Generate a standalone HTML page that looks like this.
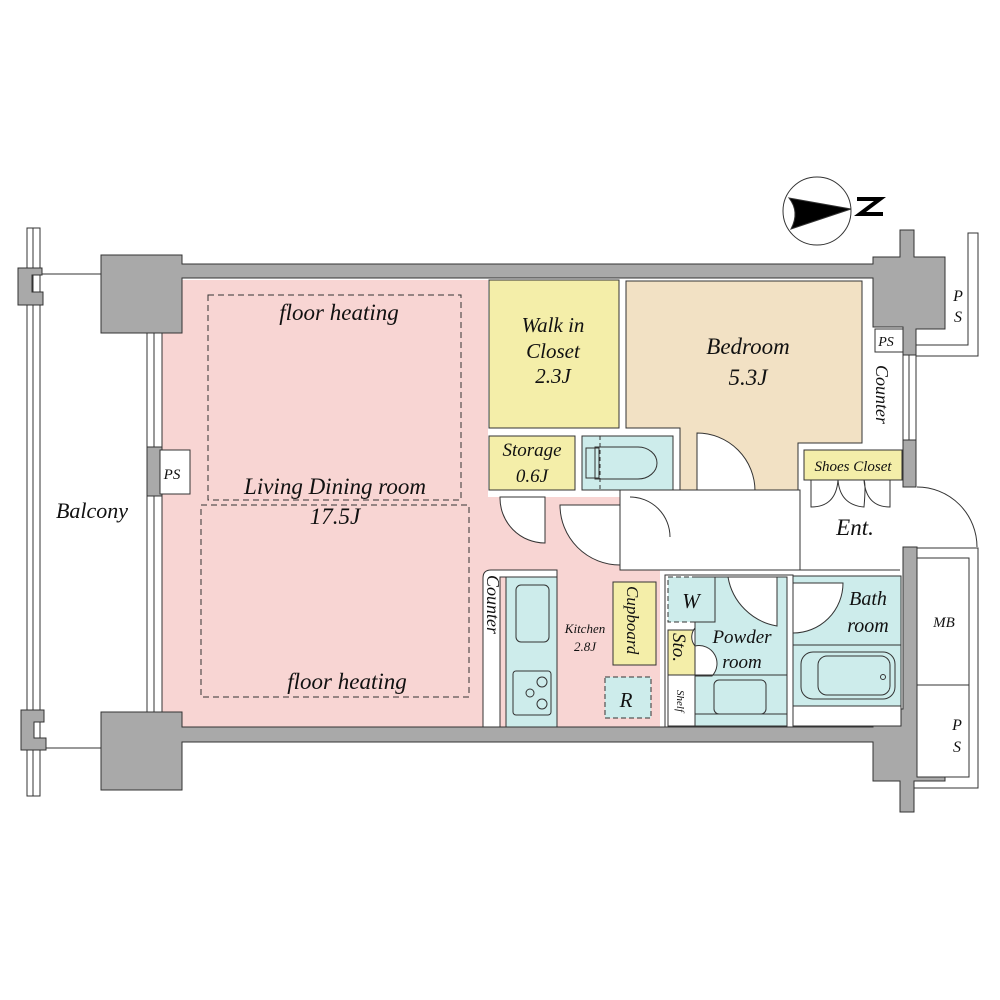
<!DOCTYPE html>
<html><head><meta charset="utf-8"><style>
html,body{margin:0;padding:0;background:#fff;}
svg{display:block;}
text{font-family:"Liberation Serif",serif;font-style:italic;fill:#111;}
</style></head><body>
<svg width="1000" height="1000" viewBox="0 0 1000 1000" xmlns="http://www.w3.org/2000/svg">
<g stroke="#333" stroke-width="1">
<rect x="27" y="228" width="13" height="568" fill="#fff"/>
<line x1="33" y1="228" x2="33" y2="796"/>
<path d="M18 268 H42 V275 H32 V292 H43 V305 H18 Z" fill="#a9a9a9"/>
<path d="M21 710 H44 V722 H34 V738 H46 V750 H21 Z" fill="#a9a9a9"/>
<line x1="42" y1="274" x2="102" y2="274"/>
<line x1="46" y1="748" x2="102" y2="748"/>

<path d="M162 280 H488 V497 H620 V570 H660 V727 H162 Z" fill="#f8d5d3" stroke="none"/>
<rect x="147" y="333" width="15" height="380" fill="#fff"/>
<line x1="154" y1="333" x2="154" y2="713"/>
<rect x="147" y="447" width="15" height="49" fill="#a9a9a9"/>
<rect x="160" y="450" width="30" height="44" fill="#fff"/>
<rect x="208" y="295" width="253" height="205" fill="none" stroke-dasharray="6,4"/>
<rect x="201" y="505" width="268" height="192" fill="none" stroke-dasharray="6,4"/>

<path d="M101 255 H182 V264 H873 V257 H900 V230 H914 V257 H945 V329 H916 V355 H903 V327 H873 V278 H182 V333 H101 Z" fill="#a9a9a9"/>
<path d="M101 712 H182 V727 H873 V709 H903 V547 H917 V709 H945 V781 H914 V812 H900 V781 H873 V742 H182 V790 H101 Z" fill="#a9a9a9"/>
<rect x="903" y="355" width="13" height="132" fill="#fff"/>
<line x1="909" y1="355" x2="909" y2="487"/>
<rect x="903" y="440" width="13" height="47" fill="#a9a9a9"/>

<path d="M916 345 H968 V233 H978 V356 H916 Z" fill="#fff"/>
<rect x="875" y="329" width="28" height="23" fill="#fff"/>
<rect x="917" y="558" width="52" height="127" fill="#fff"/>
<rect x="917" y="685" width="52" height="92" fill="#fff"/>
<path d="M917 548 H978 V788 H914" fill="none"/>
<path d="M917 487 A60 60 0 0 1 977 547" fill="none"/>

<rect x="489" y="280" width="130" height="148" fill="#f4eea9"/>
<path d="M626 281 H862 V443 H798 V490 H680 V428 H626 Z" fill="#f2e1c4"/>
<path d="M697 433 A58 58 0 0 1 755 491 H697 Z" fill="#fff"/>
<rect x="489" y="436" width="86" height="54" fill="#f4eea9"/>
<rect x="582" y="436" width="91" height="54" fill="#cdeceb"/>
<path d="M595 447 H638 A19 16 0 0 1 638 479 H595 Z" fill="none"/>
<rect x="586" y="448" width="13" height="30" fill="none"/>
<line x1="600" y1="436" x2="600" y2="490" stroke-dasharray="4,3"/>
<path d="M500 497 A45 45 0 0 0 545 543 V497 Z" fill="#fff"/>
<path d="M560 505 A60 60 0 0 0 620 565 V505 Z" fill="#fff"/>
<rect x="620" y="490" width="180" height="80" fill="#fff"/>
<path d="M630 497 A40 40 0 0 1 670 537" fill="none"/>
<line x1="800" y1="490" x2="800" y2="570"/>
<line x1="620" y1="570" x2="900" y2="570"/>
<rect x="804" y="450" width="98" height="30" fill="#f4eea9"/>
<path d="M811 480 V507 Q836 507 838 480 Q840 505 864 507 Q866 484 864 480 M890 480 V507 Q866 507 864 480" fill="none"/>
<path d="M483 727 V578 Q483 570 491 570 H557 V577 H500 V727 Z" fill="#fff"/>
<rect x="506" y="577" width="51" height="150" fill="#cdeceb"/>
<rect x="516" y="585" width="33" height="57" rx="5" fill="none"/>
<rect x="513" y="671" width="38" height="44" rx="3" fill="none"/>
<circle cx="542" cy="682" r="5" fill="none"/><circle cx="530" cy="693" r="4" fill="none"/><circle cx="542" cy="704" r="5" fill="none"/>
<rect x="613" y="582" width="43" height="83" fill="#f4eea9"/>
<rect x="605" y="677" width="46" height="41" fill="#cdeceb" stroke-dasharray="5,3"/>
<rect x="665" y="575" width="128" height="152" fill="#fff"/>
<rect x="668" y="577" width="47" height="45" fill="#cdeceb" stroke-dasharray="5,3"/>
<rect x="668" y="630" width="27" height="45" fill="#f4eea9"/>
<rect x="668" y="675" width="27" height="51" fill="#fff"/>
<path d="M695 577 H787 V726 H695 V622 H715 V577 Z" fill="#cdeceb"/>
<path d="M728 577 A60 60 0 0 0 777 626 V577 Z" fill="#fff"/>
<path d="M695 628 A14 14 0 0 0 695 646 A18 18 0 0 1 712 676 H695 Z" fill="#fff"/>
<line x1="695" y1="675" x2="787" y2="675"/>
<line x1="695" y1="714" x2="787" y2="714"/>
<rect x="714" y="680" width="52" height="34" rx="5" fill="none"/>
<rect x="793" y="576" width="108" height="150" fill="#fff"/>
<rect x="793" y="576" width="108" height="130" fill="#cdeceb"/>
<line x1="793" y1="645" x2="901" y2="645"/>
<path d="M793 583 H843 A50 50 0 0 1 793 633 Z" fill="#fff"/>
<rect x="801" y="652" width="94" height="47" rx="12" fill="none"/>
<rect x="818" y="656" width="72" height="39" rx="9" fill="none"/>
<circle cx="883" cy="677" r="2.5" fill="none"/>

<circle cx="817" cy="211" r="34" fill="#fff"/>
<path d="M789 198 L851 209 L791 229 Q800 212 789 198 Z" fill="#000"/>
</g>
<path d="M857 199 H880 L860 214 H883" fill="none" stroke="#000" stroke-width="4"/>

<text x="339" y="320" font-size="23" text-anchor="middle">floor heating</text>
<text x="335" y="494" font-size="23" text-anchor="middle">Living Dining room</text>
<text x="335" y="524" font-size="23" text-anchor="middle">17.5J</text>
<text x="347" y="689" font-size="23" text-anchor="middle">floor heating</text>
<text x="92" y="518" font-size="22" text-anchor="middle">Balcony</text>
<text x="172" y="479" font-size="15" text-anchor="middle">PS</text>
<text x="553" y="332" font-size="21" text-anchor="middle">Walk in</text>
<text x="553" y="358" font-size="21" text-anchor="middle">Closet</text>
<text x="553" y="383" font-size="21" text-anchor="middle">2.3J</text>
<text x="748" y="354" font-size="23" text-anchor="middle">Bedroom</text>
<text x="748" y="385" font-size="23" text-anchor="middle">5.3J</text>
<text x="532" y="456" font-size="19" text-anchor="middle">Storage</text>
<text x="532" y="482" font-size="19" text-anchor="middle">0.6J</text>
<text x="886" y="346" font-size="14" text-anchor="middle">PS</text>
<text x="958" y="301" font-size="16" text-anchor="middle">P</text>
<text x="958" y="322" font-size="16" text-anchor="middle">S</text>
<text transform="translate(876,365) rotate(90)" font-size="18">Counter</text>
<text x="853" y="471" font-size="15" text-anchor="middle">Shoes Closet</text>
<text x="855" y="535" font-size="23" text-anchor="middle">Ent.</text>
<text transform="translate(487,575) rotate(90)" font-size="18">Counter</text>
<text x="585" y="633" font-size="13" text-anchor="middle">Kitchen</text>
<text x="585" y="651" font-size="13" text-anchor="middle">2.8J</text>
<text transform="translate(627,586) rotate(90)" font-size="17">Cupboard</text>
<text x="626" y="707" font-size="21" text-anchor="middle">R</text>
<text x="691" y="608" font-size="21" text-anchor="middle">W</text>
<text transform="translate(673,633) rotate(90)" font-size="19">Sto.</text>
<text transform="translate(677,690) rotate(90)" font-size="11">Shelf</text>
<text x="742" y="643" font-size="19" text-anchor="middle">Powder</text>
<text x="742" y="668" font-size="19" text-anchor="middle">room</text>
<text x="868" y="605" font-size="20" text-anchor="middle">Bath</text>
<text x="868" y="632" font-size="20" text-anchor="middle">room</text>
<text x="944" y="627" font-size="15" text-anchor="middle">MB</text>
<text x="957" y="730" font-size="16" text-anchor="middle">P</text>
<text x="957" y="752" font-size="16" text-anchor="middle">S</text>
</svg>
</body></html>
